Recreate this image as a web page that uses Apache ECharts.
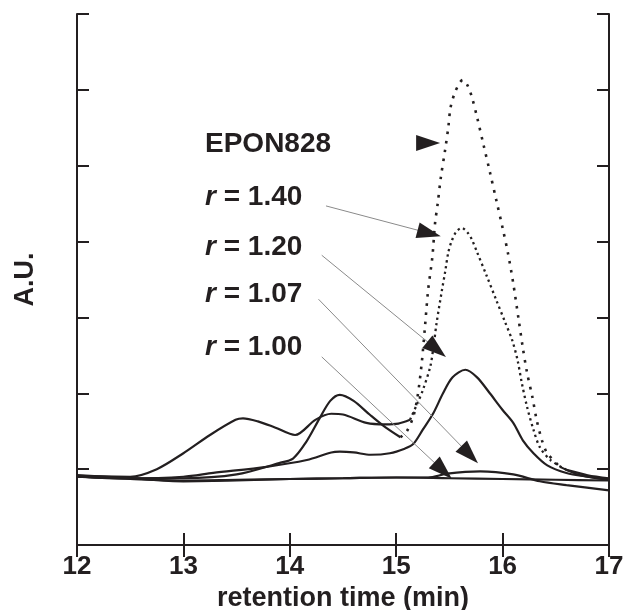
<!DOCTYPE html>
<html>
<head>
<meta charset="utf-8">
<script src="https://cdn.jsdelivr.net/npm/echarts@6/dist/echarts.min.js"></script>
<style>
  html, body { margin: 0; padding: 0; background: #fff; }
  #chart1 { width: 625px; height: 610px; }
</style>
</head>
<body>
<div id="chart1"></div>
<script>
// x ticks (retention time, min)
var xTicks = [12, 13, 14, 15, 16, 17];

// curves: [time, A.U.]
var epon828 = [
  [12.0, 0.90], [12.5, 0.88], [13.0, 0.88], [13.5, 0.93], [13.9, 1.08], [14.03, 1.14],
  [14.15, 1.35], [14.28, 1.67], [14.38, 1.90], [14.47, 1.98], [14.6, 1.90], [14.75, 1.72],
  [14.9, 1.55], [15.04, 1.42], [15.1, 1.50], [15.16, 1.69], [15.2, 1.95], [15.24, 2.40],
  [15.27, 2.87], [15.3, 3.36], [15.34, 3.80], [15.365, 4.24], [15.39, 4.50], [15.42, 4.85],
  [15.46, 5.21], [15.49, 5.51], [15.51, 5.76], [15.55, 5.96], [15.6, 6.10], [15.625, 6.13],
  [15.67, 6.06], [15.71, 5.91], [15.76, 5.64], [15.82, 5.28], [15.88, 4.92], [15.94, 4.55],
  [16.0, 4.18], [16.05, 3.85], [16.1, 3.45], [16.15, 2.98], [16.19, 2.60], [16.23, 2.27],
  [16.28, 1.95], [16.32, 1.65], [16.37, 1.38], [16.42, 1.21], [16.54, 1.03], [16.73, 0.92],
  [17.0, 0.86]
];
var r140 = [
  [12.0, 0.91], [12.5, 0.90], [12.75, 1.00], [13.0, 1.21], [13.25, 1.45], [13.49, 1.65],
  [13.56, 1.67], [13.7, 1.63], [13.86, 1.55], [14.05, 1.45], [14.24, 1.65], [14.39, 1.73],
  [14.5, 1.72], [14.72, 1.61], [14.9, 1.59], [15.02, 1.60], [15.13, 1.65], [15.2, 1.87],
  [15.25, 2.04], [15.32, 2.35], [15.35, 2.61], [15.38, 2.93], [15.43, 3.36], [15.46, 3.60],
  [15.49, 3.86], [15.52, 4.00], [15.56, 4.12], [15.615, 4.18], [15.67, 4.12], [15.71, 4.03],
  [15.76, 3.86], [15.85, 3.55], [15.94, 3.23], [16.02, 2.95], [16.09, 2.70], [16.14, 2.44],
  [16.18, 2.14], [16.23, 1.82], [16.29, 1.52], [16.35, 1.29], [16.45, 1.12], [16.6, 0.99],
  [16.8, 0.92], [17.0, 0.88]
];
var r120 = [
  [12.0, 0.90], [12.5, 0.88], [13.0, 0.90], [13.28, 0.95], [13.78, 1.03], [14.16, 1.12],
  [14.39, 1.22], [14.47, 1.23], [14.6, 1.22], [14.76, 1.19], [14.94, 1.21], [15.08, 1.27],
  [15.16, 1.33], [15.25, 1.52], [15.35, 1.74], [15.44, 2.00], [15.53, 2.21], [15.65, 2.31],
  [15.76, 2.21], [15.88, 2.00], [16.0, 1.78], [16.1, 1.61], [16.19, 1.38], [16.29, 1.21],
  [16.42, 1.05], [16.6, 0.95], [16.8, 0.90], [17.0, 0.86]
];
var r107 = [
  [12.0, 0.90], [12.5, 0.87], [13.0, 0.85], [13.5, 0.86], [14.0, 0.87], [14.5, 0.88],
  [15.0, 0.89], [15.3, 0.89], [15.48, 0.94], [15.79, 0.97], [16.1, 0.93], [16.35, 0.84],
  [16.6, 0.79], [17.0, 0.72]
];
var r100 = [
  [12.0, 0.92], [12.5, 0.88], [13.0, 0.84], [13.5, 0.85], [14.0, 0.87], [14.5, 0.88],
  [15.0, 0.89], [15.5, 0.88], [16.0, 0.87], [16.5, 0.86], [17.0, 0.85]
];

// labels and arrows: [label, arrow start, arrowhead centre]
var labels = ['EPON828', 'r = 1.40', 'r = 1.20', 'r = 1.07', 'r = 1.00'];
var arrowFrom = [[15.22, 5.30], [14.34, 4.47], [14.30, 3.82], [14.27, 3.24], [14.30, 2.48]];
var arrowTo = [[15.30, 5.30], [15.31, 4.11], [15.38, 2.58], [15.69, 1.19], [15.44, 0.98]];

var ink = '#231f20';
var font = 'Liberation Sans';

function part(d, a, b) {
  return d.filter(function (p) { return p[0] >= a && p[0] <= b; });
}

var dom = document.getElementById('chart1');
var myChart = echarts.init(dom, null, { renderer: 'canvas' });

var solid = { color: ink, width: 2.2 };
var dots = function (gap, w) {
  return { color: ink, width: w, type: [w, gap], cap: 'butt' };
};

function lineSeries(d, style) {
  return {
    type: 'line',
    data: d,
    smooth: 0.3,
    showSymbol: false,
    lineStyle: style,
    silent: true,
    z: 3
  };
}

// thin grey shaft + short black piece carrying the arrowhead
var arrows = [];
arrowFrom.forEach(function (p, i) {
  var q = arrowTo[i];
  var near = [p[0] + 0.95 * (q[0] - p[0]), p[1] + 0.95 * (q[1] - p[1])];
  arrows.push([
    { coord: p, lineStyle: { color: '#8a8a8a', width: 1 } },
    { coord: q }
  ]);
  arrows.push([
    { coord: near, lineStyle: { color: ink, width: 1 } },
    { coord: q, symbol: 'triangle', symbolSize: [16, 24] }
  ]);
});

var series = [
  lineSeries(part(epon828, 12, 15.04), solid),
  lineSeries(part(epon828, 15.04, 16.54), dots(6.5, 2.6)),
  lineSeries(part(epon828, 16.54, 17), solid),
  lineSeries(part(r140, 12, 15.13), solid),
  lineSeries(part(r140, 15.13, 16.6), dots(3.5, 2.3)),
  lineSeries(part(r140, 16.6, 17), solid),
  lineSeries(r120, solid),
  lineSeries(r107, solid),
  lineSeries(r100, solid)
];
series[8].markLine = {
  silent: true,
  animation: false,
  symbol: ['none', 'none'],
  label: { show: false },
  lineStyle: { color: '#8a8a8a', width: 1, type: 'solid' },
  emphasis: { disabled: true },
  data: arrows
};

var tick = { show: true, inside: true, length: 12, lineStyle: { color: ink, width: 2 } };
var axLine = { show: true, lineStyle: { color: ink, width: 2 } };

var option = {
  animation: false,
  grid: { left: 77, right: 16, top: 14, bottom: 65, outerBoundsMode: 'none', containLabel: false },
  xAxis: [
    {
      type: 'value', min: xTicks[0], max: xTicks[xTicks.length - 1], interval: 1,
      position: 'bottom',
      axisLine: axLine, axisTick: tick, splitLine: { show: false },
      axisLabel: {
        color: ink, fontFamily: font, fontWeight: 'bold', fontSize: 26, margin: 9,
        showMinLabel: true, showMaxLabel: true
      },
      name: 'retention time (min)',
      nameLocation: 'middle',
      nameGap: 34,
      nameTextStyle: { color: ink, fontFamily: font, fontWeight: 'bold', fontSize: 27 }
    },
    {
      type: 'value', min: xTicks[0], max: xTicks[xTicks.length - 1], interval: 1,
      position: 'top',
      axisLine: axLine, axisTick: tick, splitLine: { show: false },
      axisLabel: { show: false }
    }
  ],
  yAxis: [
    {
      type: 'value', min: 0, max: 7, interval: 1, position: 'left',
      axisLine: axLine, axisTick: tick, splitLine: { show: false },
      axisLabel: { show: false },
      name: 'A.U.',
      nameLocation: 'middle',
      nameGap: 38,
      nameTextStyle: { color: ink, fontFamily: font, fontWeight: 'bold', fontSize: 27 }
    },
    {
      type: 'value', min: 0, max: 7, interval: 1, position: 'right',
      axisLine: axLine, axisTick: tick, splitLine: { show: false },
      axisLabel: { show: false }
    }
  ],
  graphic: labels.map(function (t, i) {
    var ys = [144, 197, 247, 294, 347];
    var isR = t.charAt(0) === 'r';
    return {
      type: 'text',
      x: 205,
      y: ys[i],
      silent: true,
      style: {
        text: isR ? '{i|r}' + t.slice(1) : t,
        fill: ink,
        font: 'bold 28px "' + font + '"',
        verticalAlign: 'middle',
        rich: { i: { fontStyle: 'italic', fontWeight: 'bold', fontSize: 28, fontFamily: font, fill: ink } }
      }
    };
  }),
  series: series
};

myChart.setOption(option);
window.addEventListener('resize', myChart.resize);
</script>
</body>
</html>
